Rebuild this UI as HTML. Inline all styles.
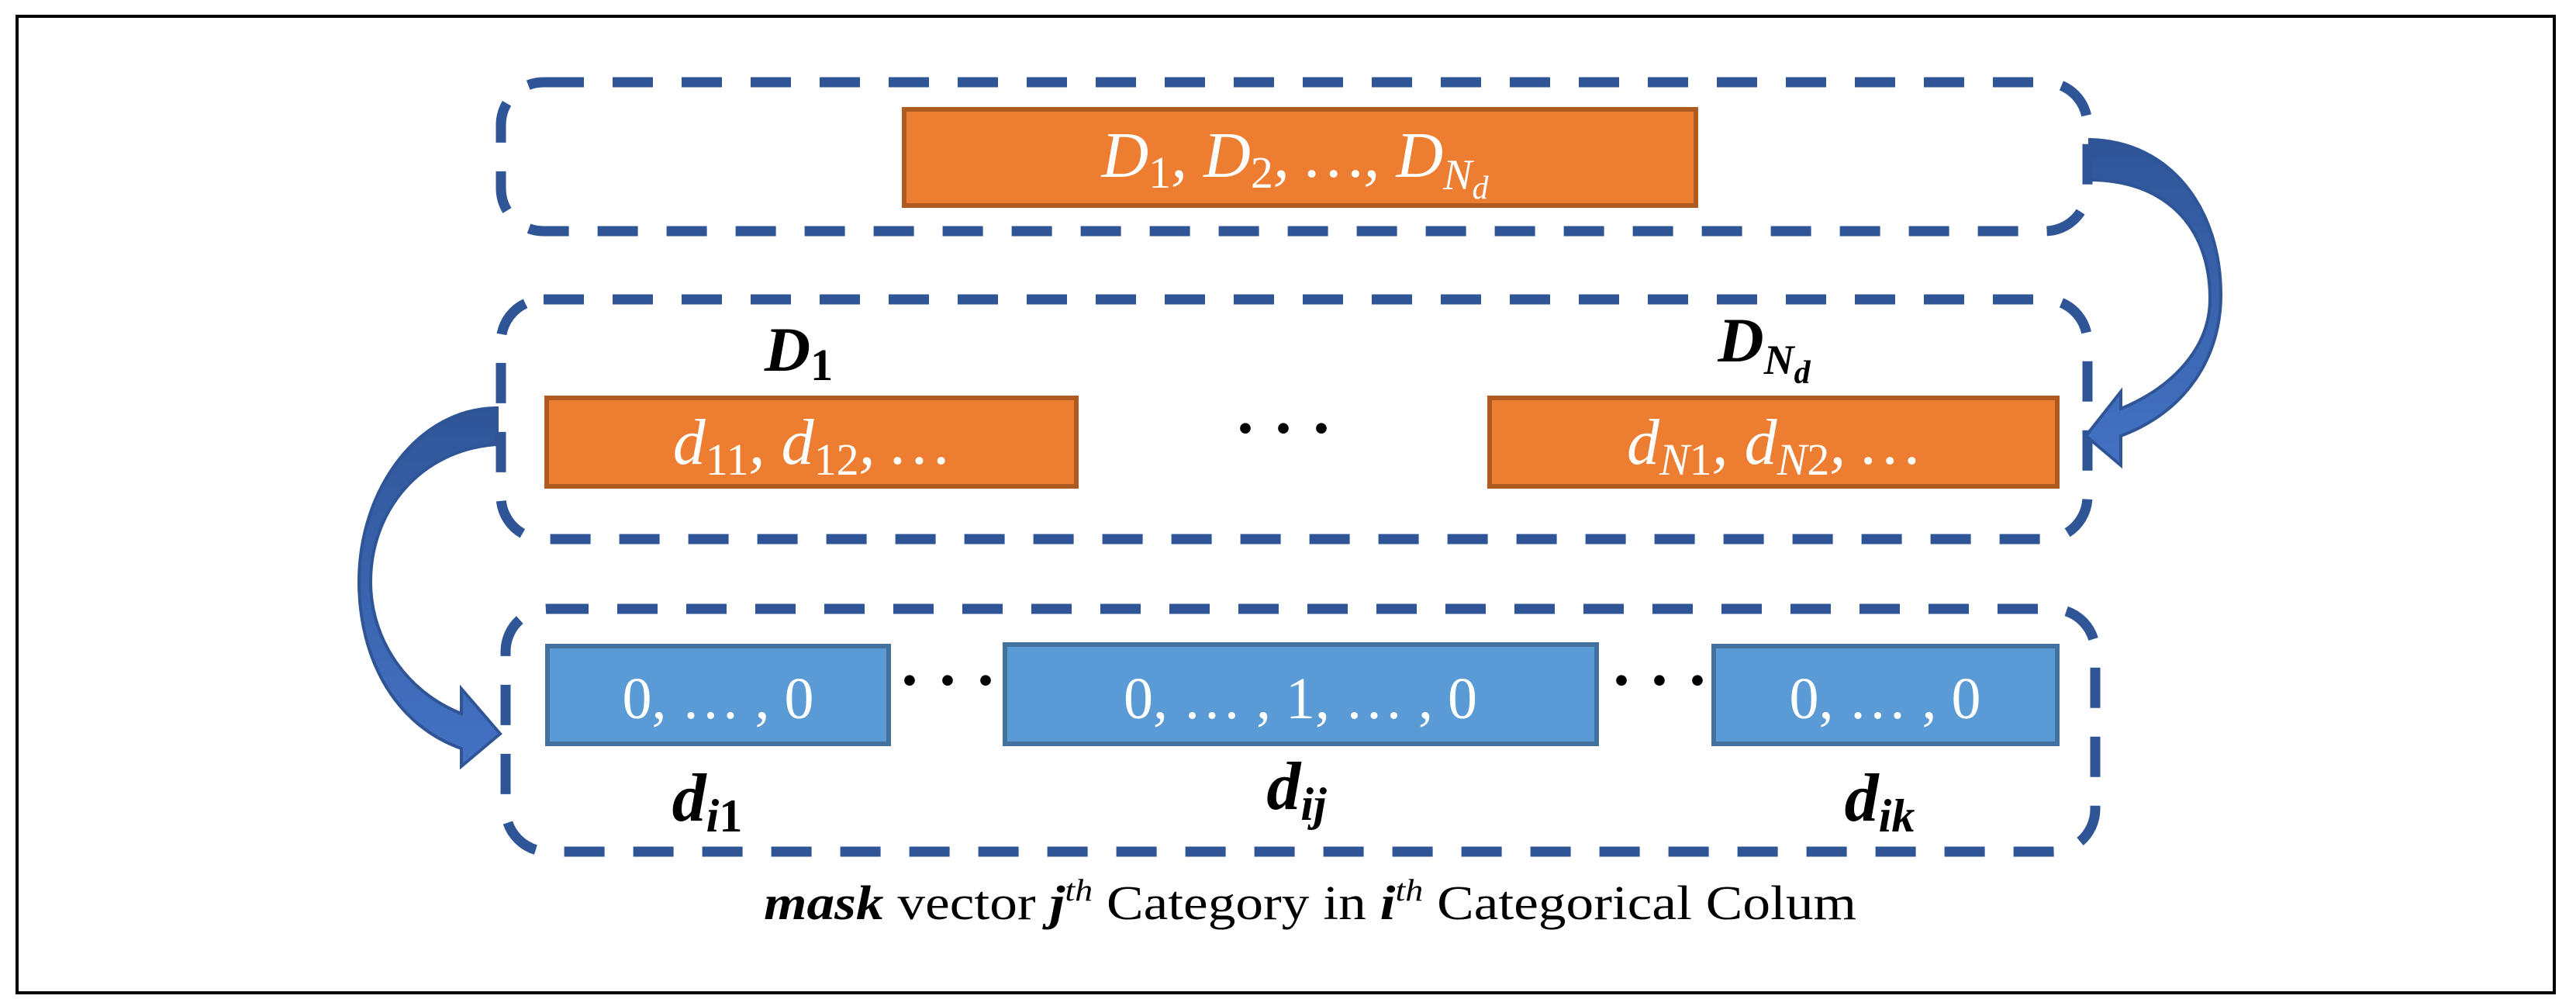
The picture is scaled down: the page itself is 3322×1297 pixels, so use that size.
<!DOCTYPE html>
<html><head><meta charset="utf-8"><style>
html,body{margin:0;padding:0;background:#fff}
svg{display:block}
text{font-family:"Liberation Serif",serif}
</style></head><body>
<svg width="3322" height="1297" viewBox="0 0 3322 1297" xmlns="http://www.w3.org/2000/svg">
<defs>
<linearGradient id="g" x1="0" y1="0" x2="0" y2="1">
<stop offset="0" stop-color="#2F5597"/><stop offset="1" stop-color="#4472C4"/>
</linearGradient>
</defs>
<rect x="22" y="21" width="3272" height="1259" fill="#fff" stroke="#000" stroke-width="4"/>
<g fill="none" stroke="#2F5597" stroke-width="13" stroke-dasharray="52 37">
<rect x="646" y="106" width="2046" height="192" rx="55"/>
<rect x="646" y="386" width="2046" height="309" rx="55"/>
<rect x="652" y="785" width="2050" height="313" rx="55"/>
</g>
<rect x="1166" y="141" width="1021" height="124" fill="#ED7D31" stroke="#AE5A21" stroke-width="6"/>
<text x="1670" y="228" font-size="84" font-style="italic" fill="#fff" text-anchor="middle">D<tspan font-size="58" dy="14" font-style="normal">1</tspan><tspan dy="-14">, D</tspan><tspan font-size="58" dy="14" font-style="normal">2</tspan><tspan dy="-14">, …, D</tspan><tspan font-size="56" dy="16">N</tspan><tspan font-size="42" dy="12">d</tspan></text>
<rect x="705" y="513" width="683" height="114" fill="#ED7D31" stroke="#AE5A21" stroke-width="6"/>
<rect x="1921" y="513" width="732" height="114" fill="#ED7D31" stroke="#AE5A21" stroke-width="6"/>
<text x="1046" y="598" font-size="84" font-style="italic" fill="#fff" text-anchor="middle">d<tspan font-size="58" dy="14" font-style="normal">11</tspan><tspan dy="-14">, d</tspan><tspan font-size="58" dy="14" font-style="normal">12</tspan><tspan dy="-14">, …</tspan></text>
<text x="2287" y="598" font-size="84" font-style="italic" fill="#fff" text-anchor="middle">d<tspan font-size="58" dy="14">N</tspan><tspan font-style="normal" font-size="58">1</tspan><tspan dy="-14">, d</tspan><tspan font-size="58" dy="14">N</tspan><tspan font-style="normal" font-size="58">2</tspan><tspan dy="-14">, …</tspan></text>
<text x="1030" y="478" font-size="82" font-style="italic" font-weight="bold" text-anchor="middle">D<tspan font-size="58" dy="12" font-style="normal">1</tspan></text>
<text x="2275" y="466" font-size="82" font-style="italic" font-weight="bold" text-anchor="middle">D<tspan font-size="54" dy="16">N</tspan><tspan font-size="42" dy="12">d</tspan></text>
<text x="1655" y="580" font-size="84" font-weight="bold" text-anchor="middle">· · ·</text>
<rect x="706" y="833" width="440" height="126" fill="#5B9BD5" stroke="#41719C" stroke-width="6"/>
<rect x="1296" y="831" width="763" height="128" fill="#5B9BD5" stroke="#41719C" stroke-width="6"/>
<rect x="2210" y="833" width="443" height="126" fill="#5B9BD5" stroke="#41719C" stroke-width="6"/>
<g font-size="76" fill="#fff" text-anchor="middle">
<text x="926" y="926">0, … , 0</text>
<text x="1677" y="926">0, … , 1, … , 0</text>
<text x="2431" y="926">0, … , 0</text>
</g>
<text x="1222" y="905" font-size="84" font-weight="bold" text-anchor="middle">· · ·</text>
<text x="2140" y="905" font-size="84" font-weight="bold" text-anchor="middle">· · ·</text>
<g font-size="88" font-style="italic" font-weight="bold" text-anchor="middle">
<text x="912" y="1058">d<tspan font-size="60" dy="14">i</tspan><tspan font-style="normal" font-size="60">1</tspan></text>
<text x="1672" y="1043">d<tspan font-size="60" dy="14">ij</tspan></text>
<text x="2424" y="1058">d<tspan font-size="60" dy="14">ik</tspan></text>
</g>
<text x="985" y="1185" font-size="62" textLength="1409" lengthAdjust="spacingAndGlyphs" font-family="Liberation Sans, sans-serif"><tspan font-style="italic" font-weight="bold" font-family="Liberation Serif, serif">mask</tspan> vector <tspan font-style="italic" font-weight="bold" font-family="Liberation Serif, serif">j</tspan><tspan font-size="40" dy="-24" font-style="italic" font-family="Liberation Serif, serif">th</tspan><tspan dy="24"> Category in </tspan><tspan font-style="italic" font-weight="bold" font-family="Liberation Serif, serif">i</tspan><tspan font-size="40" dy="-24" font-style="italic" font-family="Liberation Serif, serif">th</tspan><tspan dy="24"> Categorical Colum</tspan></text>
<path d="M641,526 L641,573 C540,580 478,660 478,750 C478,830 530,895 595,920 L595,888 L645,946 L595,988 L595,965 C510,935 463,850 463,750 C463,630 540,526 641,526 Z" fill="url(#g)" stroke="#2F5597" stroke-width="4"/>
<path d="M2695,180 C2800,182 2864,270 2864,380 C2864,460 2820,530 2735,562 L2735,600 L2690,562 L2735,505 L2735,527 C2800,500 2850,450 2850,385 C2850,290 2790,232 2695,232 Z" fill="url(#g)" stroke="#2F5597" stroke-width="4"/>
</svg>
</body></html>
